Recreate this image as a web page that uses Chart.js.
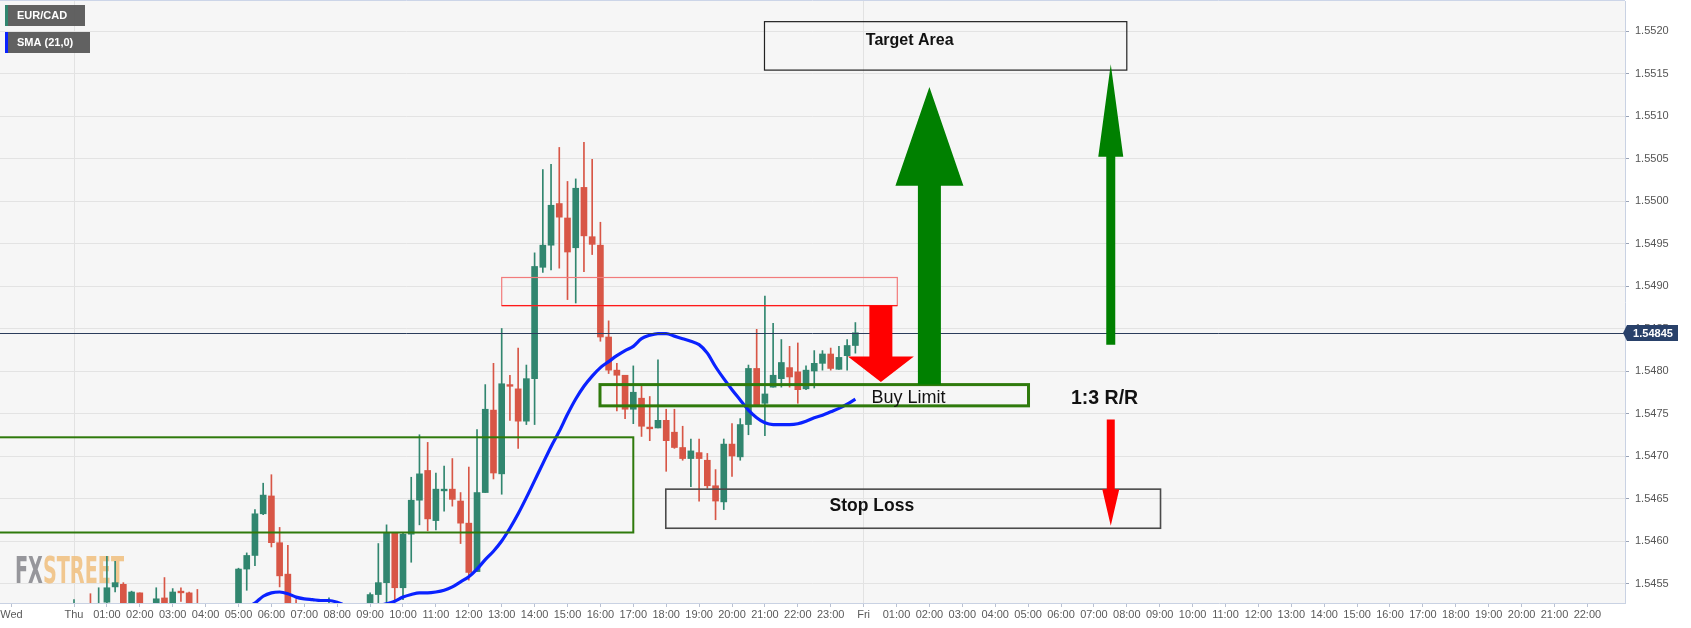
<!DOCTYPE html>
<html>
<head>
<meta charset="utf-8">
<title>EUR/CAD 15m</title>
<script src="https://cdn.jsdelivr.net/npm/chart.js@4.4.0/dist/chart.umd.min.js"></script>
<style>
  html, body { margin: 0; padding: 0; background: #fff; }
  #wrap { width: 1691px; height: 628px; position: relative; }
</style>
</head>
<body>
<div id="wrap"><canvas id="eurcad"></canvas></div>
<script>
(function () {
    "use strict";

    // 15 minute slots, counted from Thu 00:00
    var slots = [
        0, 2, 3, 4, 5, 6, 7, 8, 10, 11,
        12, 13, 14, 15, 20, 21, 22, 23, 24, 25,
        26, 27, 31, 36, 37, 38, 39, 40, 41, 42,
        43, 44, 45, 46, 47, 48, 49, 50, 51, 52,
        53, 54, 55, 56, 57, 58, 59, 60, 61, 62,
        63, 64, 65, 66, 67, 68, 69, 70, 71, 72,
        73, 74, 75, 76, 77, 78, 79, 80, 81, 82,
        83, 84, 85, 86, 87, 88, 89, 90, 91, 92,
        93, 94, 95
    ];
    var opens = [
        1.54510, 1.54520, 1.54505, 1.54528, 1.54546, 1.54549, 1.54522, 1.54539, 1.54524, 1.54533,
        1.54524, 1.54541, 1.54539, 1.54525, 1.54522, 1.54567, 1.54583, 1.54632, 1.54653, 1.54598,
        1.54561, 1.54520, 1.54505, 1.54522, 1.54537, 1.54551, 1.54610, 1.54545, 1.54608, 1.54648,
        1.54683, 1.54624, 1.54659, 1.54661, 1.54647, 1.54621, 1.54564, 1.54657, 1.54754, 1.54679,
        1.54784, 1.54779, 1.54741, 1.54791, 1.54922, 1.54948, 1.54997, 1.54980, 1.54945, 1.55016,
        1.54958, 1.54948, 1.54840, 1.54801, 1.54795, 1.54755, 1.54768, 1.54734, 1.54733, 1.54742,
        1.54728, 1.54710, 1.54697, 1.54704, 1.54695, 1.54665, 1.54646, 1.54714, 1.54699, 1.54737,
        1.54803, 1.54762, 1.54781, 1.54791, 1.54804, 1.54799, 1.54779, 1.54800, 1.54809, 1.54820,
        1.54802, 1.54818, 1.54830
    ];
    var highs = [
        1.54531, 1.54538, 1.54545, 1.54582, 1.54576, 1.54551, 1.54541, 1.54539, 1.54545, 1.54557,
        1.54544, 1.54545, 1.54540, 1.54543, 1.54568, 1.54586, 1.54637, 1.54668, 1.54678, 1.54616,
        1.54595, 1.54531, 1.54533, 1.54539, 1.54597, 1.54619, 1.54610, 1.54609, 1.54675, 1.54725,
        1.54716, 1.54680, 1.54688, 1.54697, 1.54657, 1.54687, 1.54731, 1.54784, 1.54809, 1.54850,
        1.54795, 1.54827, 1.54807, 1.54939, 1.55037, 1.55043, 1.55063, 1.55023, 1.55026, 1.55069,
        1.55049, 1.54975, 1.54859, 1.54809, 1.54795, 1.54806, 1.54782, 1.54770, 1.54813, 1.54755,
        1.54755, 1.54735, 1.54720, 1.54720, 1.54703, 1.54684, 1.54720, 1.54738, 1.54744, 1.54807,
        1.54849, 1.54888, 1.54856, 1.54837, 1.54829, 1.54833, 1.54806, 1.54824, 1.54824, 1.54827,
        1.54829, 1.54837, 1.54857
    ];
    var lows = [
        1.54505, 1.54500, 1.54500, 1.54520, 1.54540, 1.54518, 1.54515, 1.54515, 1.54518, 1.54518,
        1.54520, 1.54529, 1.54518, 1.54510, 1.54518, 1.54542, 1.54571, 1.54631, 1.54593, 1.54546,
        1.54515, 1.54505, 1.54500, 1.54518, 1.54522, 1.54525, 1.54529, 1.54531, 1.54575, 1.54619,
        1.54612, 1.54613, 1.54635, 1.54641, 1.54597, 1.54554, 1.54564, 1.54657, 1.54673, 1.54655,
        1.54742, 1.54709, 1.54737, 1.54737, 1.54916, 1.54919, 1.54921, 1.54884, 1.54880, 1.54917,
        1.54937, 1.54835, 1.54797, 1.54753, 1.54744, 1.54738, 1.54723, 1.54718, 1.54733, 1.54682,
        1.54709, 1.54695, 1.54664, 1.54647, 1.54662, 1.54625, 1.54637, 1.54676, 1.54695, 1.54725,
        1.54758, 1.54724, 1.54781, 1.54781, 1.54781, 1.54762, 1.54778, 1.54780, 1.54801, 1.54801,
        1.54802, 1.54801, 1.54821
    ];
    var closes = [
        1.54520, 1.54510, 1.54520, 1.54545, 1.54551, 1.54522, 1.54540, 1.54522, 1.54532, 1.54523,
        1.54540, 1.54539, 1.54522, 1.54515, 1.54567, 1.54583, 1.54632, 1.54654, 1.54598, 1.54559,
        1.54522, 1.54510, 1.54520, 1.54537, 1.54551, 1.54610, 1.54545, 1.54608, 1.54648, 1.54679,
        1.54626, 1.54661, 1.54661, 1.54649, 1.54621, 1.54563, 1.54657, 1.54755, 1.54680, 1.54785,
        1.54782, 1.54741, 1.54791, 1.54923, 1.54948, 1.54995, 1.54981, 1.54940, 1.55015, 1.54959,
        1.54949, 1.54840, 1.54801, 1.54795, 1.54755, 1.54775, 1.54735, 1.54732, 1.54742, 1.54718,
        1.54710, 1.54697, 1.54706, 1.54697, 1.54665, 1.54647, 1.54714, 1.54700, 1.54737, 1.54803,
        1.54760, 1.54773, 1.54795, 1.54810, 1.54793, 1.54778, 1.54801, 1.54809, 1.54820, 1.54803,
        1.54816, 1.54830, 1.54845
    ];

    // SMA (21,0), one value per slot from slot 20
    var smaFirstSlot = 20;
    var smaValues = [
        1.54518, 1.54522, 1.54527, 1.54535, 1.54539, 1.54540, 1.54538, 1.54534, 1.54532, 1.54531,
        1.54530, 1.54530, 1.54528, 1.54524, 1.54521, 1.54520, 1.54521, 1.54524, 1.54526, 1.54529,
        1.54534, 1.54537, 1.54539, 1.54539, 1.54540, 1.54542, 1.54546, 1.54552, 1.54558, 1.54567,
        1.54578, 1.54588, 1.54600, 1.54615, 1.54632, 1.54651, 1.54671, 1.54691, 1.54711, 1.54729,
        1.54749, 1.54767, 1.54782, 1.54794, 1.54804, 1.54811, 1.54818, 1.54824, 1.54829, 1.54838,
        1.54842, 1.54844, 1.54844, 1.54841, 1.54838, 1.54835, 1.54831, 1.54821, 1.54805, 1.54791,
        1.54778, 1.54766, 1.54754, 1.54745, 1.54739, 1.54737, 1.54737, 1.54737, 1.54738, 1.54741,
        1.54745, 1.54748, 1.54752, 1.54756, 1.54761, 1.54767
    ];

    var priceTicks = [1.5455, 1.5460, 1.5465, 1.5470, 1.5475, 1.5480, 1.5485,
                      1.5490, 1.5495, 1.5500, 1.5505, 1.5510, 1.5515, 1.5520];
    var timeLabels = ["Wed", "Thu",
        "01:00", "02:00", "03:00", "04:00", "05:00", "06:00", "07:00", "08:00", "09:00", "10:00", "11:00", "12:00",
        "13:00", "14:00", "15:00", "16:00", "17:00", "18:00", "19:00", "20:00", "21:00", "22:00", "23:00", "Fri",
        "01:00", "02:00", "03:00", "04:00", "05:00", "06:00", "07:00", "08:00", "09:00", "10:00", "11:00", "12:00",
        "13:00", "14:00", "15:00", "16:00", "17:00", "18:00", "19:00", "20:00", "21:00", "22:00"];
    var lastPrice = 1.54845;

    // drawn zones: [fromSlot, toSlot, topPrice, bottomPrice]
    var supplyZone = [52.0, 100.1, 1.54910, 1.54877];
    var demandZone = [-12, 68.0, 1.54722, 1.54610];
    var buyLimitZone = [63.95, 116.05, 1.54784, 1.54759];
    var targetZone = [83.95, 128.0, 1.55211, 1.55154];
    var stopZone = [71.95, 132.1, 1.54661, 1.54615];

    // arrows: [slot, tailPrice, headBasePrice, tipPrice]
    var sellArrow = [98.1, 1.54877, 1.54817, 1.54787];
    var bigUpArrow = [104.0, 1.54784, 1.55018, 1.55134];
    var rewardArrow = [126.05, 1.54831, 1.55052, 1.55161];
    var riskArrow = [126.05, 1.54743, 1.54661, 1.54618];

    // labels: [text, slot, price]
    var notes = [
        ["Target Area", 101.6, 1.55189],
        ["Buy Limit", 101.45, 1.54768],
        ["Stop Loss", 97.0, 1.54641],
        ["1:3 R/R", 125.3, 1.54768]
    ];

    var GREEN = "#31866f";
    var RED = "#d85646";
    var ZONE_GREEN = "#2f7a0c";

    var candleColors = closes.map(function (c, i) { return c >= opens[i] ? GREEN : RED; });
    var bodies = slots.map(function (s, i) { return { x: s, y: [opens[i], closes[i]] }; });
    var wicks = slots.map(function (s, i) { return { x: s, y: [lows[i], highs[i]] }; });
    var sma = smaValues.map(function (v, i) { return { x: smaFirstSlot + i, y: v }; });
    var timeTickPos = timeLabels.map(function (l, i) { return i === 0 ? -7.6 : (i - 1) * 4; });

    function zoneRect(chart, z) {
        var xs = chart.scales.x, ys = chart.scales.y;
        var x0 = xs.getPixelForValue(z[0]), x1 = xs.getPixelForValue(z[1]);
        var y0 = ys.getPixelForValue(z[2]), y1 = ys.getPixelForValue(z[3]);
        return [x0, y0, x1 - x0, y1 - y0];
    }

    function drawArrow(c, chart, a, color, shaftW, headW) {
        var x = chart.scales.x.getPixelForValue(a[0]);
        var yTail = chart.scales.y.getPixelForValue(a[1]);
        var yBase = chart.scales.y.getPixelForValue(a[2]);
        var yTip = chart.scales.y.getPixelForValue(a[3]);
        c.fillStyle = color;
        c.beginPath();
        c.moveTo(x - shaftW / 2, yTail);
        c.lineTo(x - shaftW / 2, yBase);
        c.lineTo(x - headW / 2, yBase);
        c.lineTo(x, yTip);
        c.lineTo(x + headW / 2, yBase);
        c.lineTo(x + shaftW / 2, yBase);
        c.lineTo(x + shaftW / 2, yTail);
        c.closePath();
        c.fill();
    }

    var backdrop = {
        id: "backdrop",
        beforeDraw: function (chart) {
            var c = chart.ctx, a = chart.chartArea;
            c.save();
            c.fillStyle = "#ffffff";
            c.fillRect(0, 0, chart.width, chart.height);
            c.fillStyle = "#f6f6f6";
            c.fillRect(a.left, a.top, a.right - a.left, a.bottom - a.top);
            c.restore();
        },
        beforeDatasetsDraw: function (chart) {
            // FXSTREET watermark
            var c = chart.ctx;
            c.save();
            c.font = "bold 37px 'Liberation Sans Narrow', 'DejaVu Sans Condensed', Arial, sans-serif";
            var wFx = c.measureText("FX").width, wSt = c.measureText("STREET").width;
            var k = 109 / (wFx + wSt);
            c.translate(15, 583);
            c.scale(k, 1);
            c.textBaseline = "alphabetic";
            c.fillStyle = "rgba(140,140,145,0.9)";
            c.fillText("FX", 0, 0);
            c.fillStyle = "rgba(240,190,125,0.85)";
            c.fillText("STREET", wFx, 0);
            c.restore();
        }
    };

    var drawings = {
        id: "drawings",
        afterDatasetsDraw: function (chart) {
            var c = chart.ctx, a = chart.chartArea, r;
            c.save();
            c.beginPath();
            c.rect(a.left, a.top, a.right - a.left, a.bottom - a.top);
            c.clip();

            // last price line
            var yLast = Math.round(chart.scales.y.getPixelForValue(lastPrice)) + 0.5;
            c.strokeStyle = "#2b3d5c";
            c.lineWidth = 1;
            c.beginPath();
            c.moveTo(a.left, yLast);
            c.lineTo(a.right, yLast);
            c.stroke();

            r = zoneRect(chart, demandZone);
            c.strokeStyle = ZONE_GREEN;
            c.lineWidth = 2;
            c.strokeRect(r[0], r[1], r[2], r[3]);

            r = zoneRect(chart, supplyZone);
            c.strokeStyle = "#f27b7b";
            c.lineWidth = 1.2;
            c.strokeRect(r[0], r[1], r[2], r[3]);
            c.strokeStyle = "#ff1a1a";
            c.beginPath();
            c.moveTo(r[0], r[1] + r[3]);
            c.lineTo(r[0] + r[2], r[1] + r[3]);
            c.stroke();

            r = zoneRect(chart, buyLimitZone);
            c.strokeStyle = ZONE_GREEN;
            c.lineWidth = 3;
            c.strokeRect(r[0], r[1], r[2], r[3]);

            r = zoneRect(chart, targetZone);
            c.strokeStyle = "#222222";
            c.lineWidth = 1.2;
            c.strokeRect(r[0], r[1], r[2], r[3]);

            r = zoneRect(chart, stopZone);
            c.strokeStyle = "#4a4a4a";
            c.lineWidth = 1.6;
            c.strokeRect(r[0], r[1], r[2], r[3]);

            drawArrow(c, chart, sellArrow, "#ff0000", 23, 66);
            drawArrow(c, chart, bigUpArrow, "#008000", 23, 68);
            drawArrow(c, chart, rewardArrow, "#008000", 9, 25);
            drawArrow(c, chart, riskArrow, "#ff0000", 8, 17);

            var fonts = ["bold 16px Arial, sans-serif", "18px Arial, sans-serif",
                         "bold 17.5px Arial, sans-serif", "bold 19.5px Arial, sans-serif"];
            c.fillStyle = "#111111";
            c.textAlign = "center";
            c.textBaseline = "middle";
            notes.forEach(function (n, i) {
                c.font = fonts[i];
                c.fillText(n[0], chart.scales.x.getPixelForValue(n[1]), chart.scales.y.getPixelForValue(n[2]));
            });
            c.restore();
        },
        afterDraw: function (chart) {
            var c = chart.ctx, a = chart.chartArea;
            c.save();
            // top frame line
            c.strokeStyle = "#ccd5e8";
            c.lineWidth = 1;
            c.beginPath();
            c.moveTo(0, 0.5);
            c.lineTo(a.right, 0.5);
            c.stroke();

            // last price tag on the axis
            var y = Math.round(chart.scales.y.getPixelForValue(lastPrice));
            c.fillStyle = "#29416a";
            c.beginPath();
            c.moveTo(a.right - 2, y);
            c.lineTo(a.right + 2, y - 8);
            c.lineTo(1678, y - 8);
            c.lineTo(1678, y + 8);
            c.lineTo(a.right + 2, y + 8);
            c.closePath();
            c.fill();
            c.fillStyle = "#ffffff";
            c.font = "bold 11px Arial, sans-serif";
            c.textAlign = "center";
            c.textBaseline = "middle";
            c.fillText(lastPrice.toFixed(5), 1653, y + 0.5);

            // legend chips
            var chips = [["EUR/CAD", GREEN, 5, 80], ["SMA (21,0)", "#0a22ff", 32, 85]];
            chips.forEach(function (ch) {
                c.fillStyle = "rgba(88,88,88,0.95)";
                c.fillRect(5, ch[2], ch[3], 21);
                c.fillStyle = ch[1];
                c.fillRect(5, ch[2], 3, 21);
                c.fillStyle = "#ffffff";
                c.textAlign = "left";
                c.font = "bold 11px Arial, sans-serif";
                c.fillText(ch[0], 17, ch[2] + 11);
            });
            c.restore();
        }
    };

    Chart.defaults.font.family = "Arial, 'Liberation Sans', sans-serif";

    var ctx = document.getElementById("eurcad").getContext("2d");
    new Chart(ctx, {
        type: "bar",
        data: {
            datasets: [{
                type: "line",
                label: "SMA (21,0)",
                data: sma,
                borderColor: "#0a22ff",
                borderWidth: 3.2,
                pointRadius: 0,
                cubicInterpolationMode: "monotone",
                order: 0,
                clip: 0
            }, {
                label: "body",
                data: bodies,
                backgroundColor: candleColors,
                barThickness: 6,
                minBarLength: 1,
                grouped: false,
                order: 1,
                clip: 0
            }, {
                label: "wick",
                data: wicks,
                backgroundColor: candleColors,
                barThickness: 1,
                grouped: false,
                order: 2,
                clip: 0
            }]
        },
        options: {
            responsive: true,
            maintainAspectRatio: false,
            animation: false,
            devicePixelRatio: 1,
            layout: { autoPadding: false, padding: { top: 1, left: 0, right: 0, bottom: 0 } },
            plugins: {
                legend: { display: false },
                tooltip: { enabled: false }
            },
            scales: {
                x: {
                    type: "linear",
                    min: -74 / 8.225,
                    max: (1625 - 74) / 8.225,
                    offset: false,
                    afterFit: function (s) {
                        s.height = 25;
                        s.paddingLeft = 0;
                        s.paddingRight = 0;
                    },
                    afterBuildTicks: function (s) {
                        s.ticks = timeTickPos.map(function (v) { return { value: v }; });
                    },
                    ticks: {
                        autoSkip: false,
                        maxRotation: 0,
                        minRotation: 0,
                        padding: 1,
                        color: "#5a5a5a",
                        font: { size: 11 },
                        callback: function (v, i) { return timeLabels[i]; }
                    },
                    grid: {
                        offset: false,
                        color: function (g) {
                            return g.tick && (g.tick.value === 0 || g.tick.value === 96) ? "#e2e2e2" : "rgba(0,0,0,0)";
                        },
                        tickColor: "#b9c1d2",
                        tickLength: 4
                    },
                    border: { color: "#c9d2e3" }
                },
                y: {
                    type: "linear",
                    position: "right",
                    min: 1.5520 - 572 / 85000,
                    max: 1.5520 + 30 / 85000,
                    afterFit: function (s) {
                        s.width = 66;
                        s.paddingTop = 0;
                        s.paddingBottom = 0;
                    },
                    afterBuildTicks: function (s) {
                        s.ticks = priceTicks.map(function (v) { return { value: v }; });
                    },
                    ticks: {
                        padding: 6,
                        color: "#555555",
                        font: { size: 11 },
                        callback: function (v) { return v.toFixed(4); }
                    },
                    grid: {
                        color: "#e3e3e3",
                        tickColor: "#9aa3b5",
                        tickLength: 4
                    },
                    border: { color: "#c9d2e3" }
                }
            }
        },
        plugins: [backdrop, drawings]
    });
})();
</script>
</body>
</html>
